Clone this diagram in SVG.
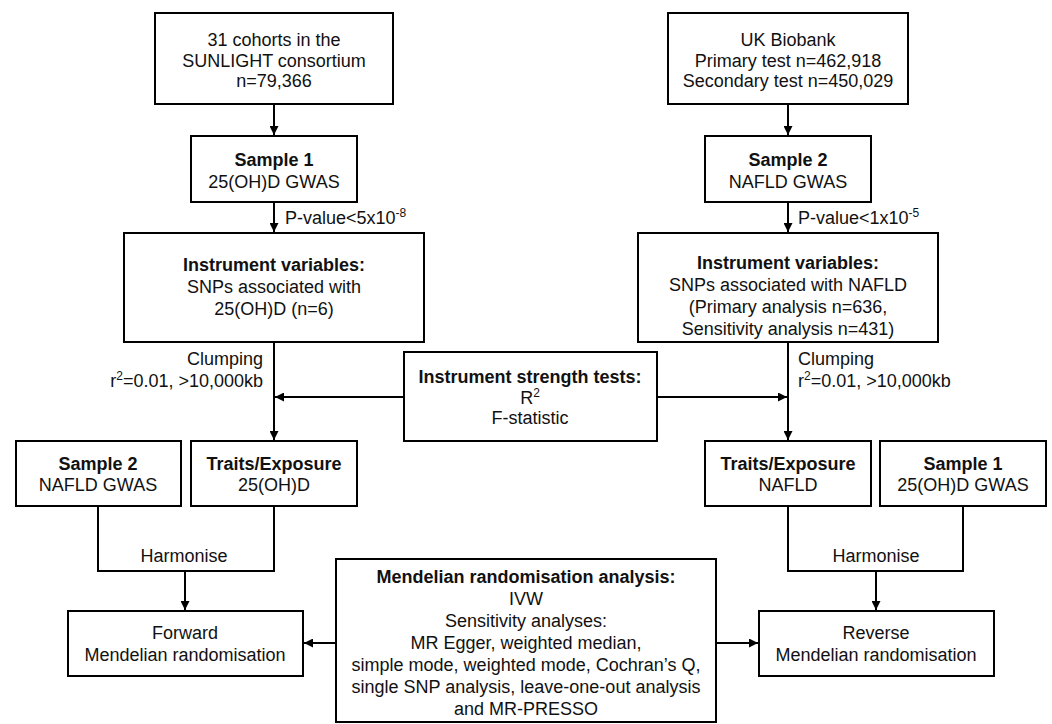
<svg xmlns="http://www.w3.org/2000/svg" width="1052" height="724" viewBox="0 0 1052 724">
<style>
.box{fill:#fff;stroke:#000;stroke-width:2}
text{font-family:"Liberation Sans",Arial,sans-serif;font-size:18px;fill:#111;text-anchor:middle}
.b{font-weight:bold}
.l{text-anchor:start}
.r{text-anchor:end}
.sup{font-size:12px}
.c{fill:none;stroke:#000;stroke-width:2}
</style>
<defs>
<marker id="ah" viewBox="0 0 10 10" refX="10" refY="5" markerWidth="9" markerHeight="9" orient="auto" markerUnits="userSpaceOnUse"><path d="M0,0 L10,5 L0,10 z" fill="#000"/></marker>
</defs>
<rect width="1052" height="724" fill="#fff"/>
<g id="connectors">
<path class="c" d="M274,104 V135" marker-end="url(#ah)"/>
<path class="c" d="M274,202 V232" marker-end="url(#ah)"/>
<path class="c" d="M274,342 V440" marker-end="url(#ah)"/>
<path class="c" d="M404,397 H275" marker-end="url(#ah)"/>
<path class="c" d="M657,397 H787" marker-end="url(#ah)"/>
<path class="c" d="M788,104 V135" marker-end="url(#ah)"/>
<path class="c" d="M788,202 V232" marker-end="url(#ah)"/>
<path class="c" d="M788,342 V440" marker-end="url(#ah)"/>
<path class="c" d="M98,506 V571 H274 V506"/>
<path class="c" d="M788,506 V571 H963 V506"/>
<path class="c" d="M185,571 V610" marker-end="url(#ah)"/>
<path class="c" d="M876,571 V610" marker-end="url(#ah)"/>
<path class="c" d="M336,643 H304" marker-end="url(#ah)"/>
<path class="c" d="M716,643 H758" marker-end="url(#ah)"/>
<text class="l" x="285" y="224">P-value&lt;5x10<tspan class="sup" dy="-7">-8</tspan></text>
<text class="l" x="798" y="224">P-value&lt;1x10<tspan class="sup" dy="-7">-5</tspan></text>
<text class="r" x="263" y="365">Clumping</text>
<text class="r" x="263" y="387">r<tspan class="sup" dy="-7">2</tspan><tspan dy="7">=0.01, &gt;10,000kb</tspan></text>
<text class="l" x="798" y="365">Clumping</text>
<text class="l" x="798" y="387">r<tspan class="sup" dy="-7">2</tspan><tspan dy="7">=0.01, &gt;10,000kb</tspan></text>
<text x="184" y="562">Harmonise</text>
<text x="876" y="562">Harmonise</text>
</g>
<g id="n-sunlight">
<rect class="box" x="155" y="13" width="238" height="91"/>
<text x="274" y="46">31 cohorts in the</text>
<text x="274" y="67">SUNLIGHT consortium</text>
<text x="274" y="87">n=79,366</text>
</g>
<g id="n-ukb">
<rect class="box" x="668" y="13" width="240" height="91"/>
<text x="788" y="46">UK Biobank</text>
<text x="788" y="67">Primary test n=462,918</text>
<text x="788" y="87">Secondary test n=450,029</text>
</g>
<g id="n-sample1-top">
<rect class="box" x="191" y="136" width="166" height="66"/>
<text class="b" x="274" y="166">Sample 1</text>
<text x="274" y="188">25(OH)D GWAS</text>
</g>
<g id="n-sample2-top">
<rect class="box" x="705" y="136" width="166" height="66"/>
<text class="b" x="788" y="166">Sample 2</text>
<text x="788" y="188">NAFLD GWAS</text>
</g>
<g id="n-iv-left">
<rect class="box" x="124" y="233" width="300" height="109"/>
<text class="b" x="274" y="271">Instrument variables:</text>
<text x="274" y="293">SNPs associated with</text>
<text x="274" y="315">25(OH)D (n=6)</text>
</g>
<g id="n-iv-right">
<rect class="box" x="638" y="233" width="300" height="109"/>
<text class="b" x="788" y="269">Instrument variables:</text>
<text x="788" y="291">SNPs associated with NAFLD</text>
<text x="788" y="313">(Primary analysis n=636,</text>
<text x="788" y="335">Sensitivity analysis n=431)</text>
</g>
<g id="n-strength">
<rect class="box" x="404" y="352" width="253" height="89"/>
<text class="b" x="530" y="383">Instrument strength tests:</text>
<text x="530" y="404">R<tspan class="sup" dy="-7">2</tspan></text>
<text x="530" y="424">F-statistic</text>
</g>
<g id="n-sample2-left">
<rect class="box" x="16" y="441" width="165" height="65"/>
<text class="b" x="98" y="470">Sample 2</text>
<text x="98" y="491">NAFLD GWAS</text>
</g>
<g id="n-traits-left">
<rect class="box" x="191" y="441" width="166" height="65"/>
<text class="b" x="274" y="470">Traits/Exposure</text>
<text x="274" y="491">25(OH)D</text>
</g>
<g id="n-traits-right">
<rect class="box" x="705" y="441" width="166" height="65"/>
<text class="b" x="788" y="470">Traits/Exposure</text>
<text x="788" y="491">NAFLD</text>
</g>
<g id="n-sample1-right">
<rect class="box" x="880" y="441" width="166" height="65"/>
<text class="b" x="963" y="470">Sample 1</text>
<text x="963" y="491">25(OH)D GWAS</text>
</g>
<g id="n-forward">
<rect class="box" x="68" y="611" width="235" height="65"/>
<text x="185" y="639">Forward</text>
<text x="185" y="661">Mendelian randomisation</text>
</g>
<g id="n-reverse">
<rect class="box" x="759" y="611" width="235" height="65"/>
<text x="876" y="639">Reverse</text>
<text x="876" y="661">Mendelian randomisation</text>
</g>
<g id="n-mr">
<rect class="box" x="336" y="559" width="380" height="163"/>
<text class="b" x="526" y="583">Mendelian randomisation analysis:</text>
<text x="526" y="605">IVW</text>
<text x="526" y="627">Sensitivity analyses:</text>
<text x="526" y="649">MR Egger, weighted median,</text>
<text x="526" y="671">simple mode, weighted mode, Cochran’s Q,</text>
<text x="526" y="693">single SNP analysis, leave-one-out analysis</text>
<text x="526" y="715">and MR-PRESSO</text>
</g>
</svg>
